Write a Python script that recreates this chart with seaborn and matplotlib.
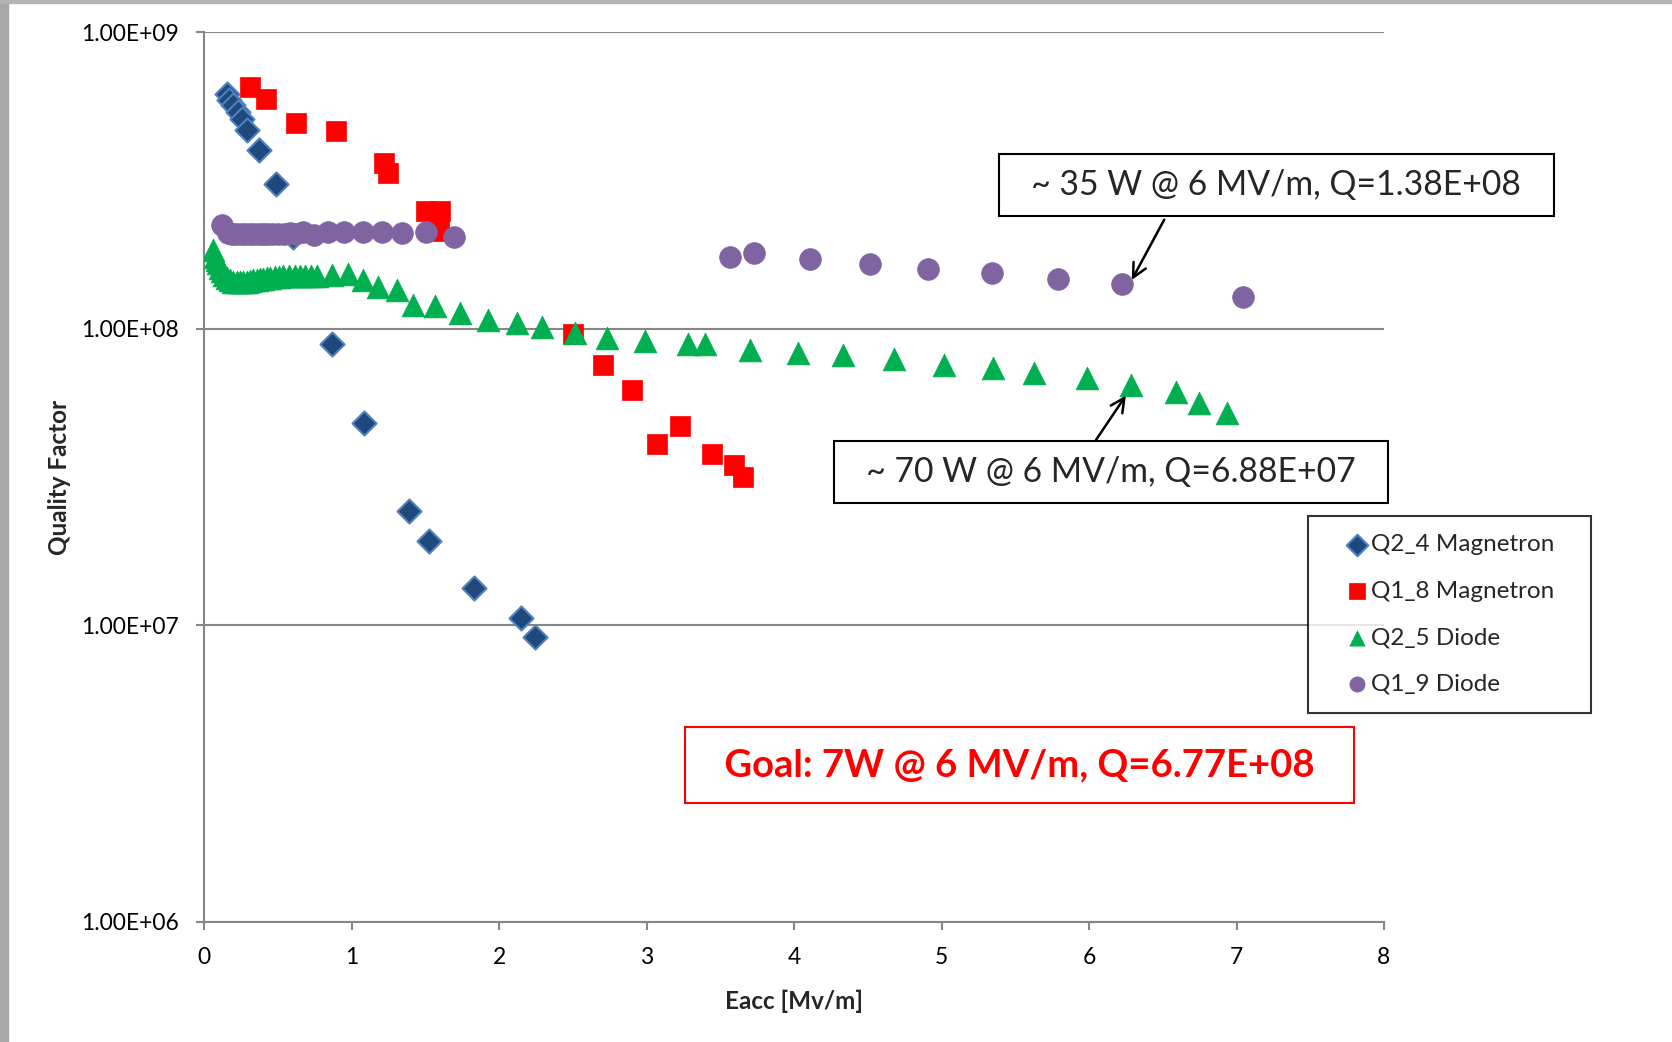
import numpy as np
import pandas as pd
import matplotlib
matplotlib.use("Agg")
import matplotlib.pyplot as plt
from matplotlib.patches import Rectangle
import seaborn as sns

# ---------------- data ----------------
q24_x = [0.154, 0.172, 0.199, 0.228, 0.26, 0.294, 0.373, 0.486, 0.605, 0.866,
         1.084, 1.387, 1.525, 1.828, 2.146, 2.247]
q24_y = [6.2e8, 5.9e8, 5.68e8, 5.38e8, 5.08e8, 4.68e8, 4.0e8, 3.08e8, 2.03e8, 8.87e7,
         4.8e7, 2.42e7, 1.92e7, 1.34e7, 1.06e7, 9.1e6]

q18_x = [0.314, 0.422, 0.626, 0.897, 1.222, 1.249, 1.507, 1.60, 1.591,
         2.50, 2.702, 2.905, 3.071, 3.23, 3.447, 3.591, 3.656]
q18_y = [6.54e8, 5.95e8, 4.95e8, 4.64e8, 3.63e8, 3.36e8, 2.5e8, 2.5e8, 2.14e8,
         9.62e7, 7.57e7, 6.2e7, 4.07e7, 4.68e7, 3.78e7, 3.48e7, 3.17e7]

q25_x = [0.063, 0.075, 0.085, 0.097, 0.108, 0.12, 0.135, 0.154, 0.175, 0.199, 0.222,
         0.244, 0.267, 0.289, 0.312, 0.334, 0.357, 0.38, 0.40, 0.425, 0.45, 0.481,
         0.51, 0.538, 0.575, 0.617, 0.65, 0.685, 0.725, 0.764, 0.866, 0.978,
         1.08, 1.182, 1.306, 1.419, 1.566, 1.736, 1.927, 2.124, 2.29, 2.514,
         2.731, 2.991, 3.28, 3.396, 3.699, 4.025, 4.335, 4.675, 5.014, 5.352,
         5.625, 5.987, 6.285, 6.588, 6.745, 6.936]
q25_y = [1.84e8, 1.75e8, 1.70e8, 1.66e8, 1.60e8, 1.56e8, 1.52e8, 1.48e8, 1.46e8, 1.44e8, 1.44e8,
         1.44e8, 1.44e8, 1.44e8, 1.45e8, 1.46e8, 1.46e8, 1.47e8, 1.47e8, 1.48e8, 1.48e8, 1.49e8,
         1.49e8, 1.50e8, 1.50e8, 1.51e8, 1.51e8, 1.51e8, 1.51e8, 1.51e8, 1.52e8, 1.53e8,
         1.46e8, 1.38e8, 1.35e8, 1.20e8, 1.19e8, 1.13e8, 1.07e8, 1.045e8, 1.01e8, 9.7e7,
         9.3e7, 9.08e7, 8.85e7, 8.85e7, 8.5e7, 8.29e7, 8.15e7, 7.88e7, 7.55e7, 7.35e7,
         7.08e7, 6.8e7, 6.46e7, 6.13e7, 5.6e7, 5.19e7]

q19_x = [0.124, 0.16, 0.19, 0.22, 0.25, 0.28, 0.31, 0.34, 0.37, 0.40, 0.43, 0.46,
         0.50, 0.54, 0.58, 0.62, 0.673, 0.748, 0.843, 0.951, 1.076, 1.209, 1.345, 1.505, 1.697,
         3.569, 3.728, 4.111, 4.516, 4.906, 5.34, 5.788, 6.221, 7.045]
q19_y = [2.24e8, 2.10e8, 2.08e8, 2.08e8, 2.08e8, 2.08e8, 2.08e8, 2.08e8, 2.08e8, 2.08e8, 2.08e8, 2.09e8,
         2.08e8, 2.09e8, 2.10e8, 2.09e8, 2.12e8, 2.07e8, 2.12e8, 2.12e8, 2.12e8, 2.12e8, 2.10e8, 2.11e8, 2.04e8,
         1.75e8, 1.80e8, 1.72e8, 1.65e8, 1.59e8, 1.54e8, 1.47e8, 1.41e8, 1.28e8]

series_names = ["Q2_4 Magnetron", "Q1_8 Magnetron", "Q2_5 Diode", "Q1_9 Diode"]
x_ticks = [0, 1, 2, 3, 4, 5, 6, 7, 8]
y_ticks = [1e6, 1e7, 1e8, 1e9]
y_tick_labels = ["1.00E+06", "1.00E+07", "1.00E+08", "1.00E+09"]
note_q19 = "~ 35 W @ 6 MV/m, Q=1.38E+08"
note_q25 = "~ 70 W @ 6 MV/m, Q=6.88E+07"
note_goal = "Goal: 7W @ 6 MV/m, Q=6.77E+08"

# ---------------- style ----------------
sns.set_style("white")
plt.rcParams["font.family"] = ["Lato", "DejaVu Sans"]

W, H = 1672, 1042
fig = plt.figure(figsize=(W / 100, H / 100), dpi=100)
fig.patch.set_facecolor("white")
ax = fig.add_axes([204 / W, 1 - 922 / H, (1384 - 204) / W, (922 - 32) / H])

GRID = "#868686"
styles = [
    dict(marker="D", color="#1F497D", edgecolor="#4F81BD", s=150, linewidth=1.5),
    dict(marker="s", color="#FF0000", edgecolor="#FF0000", s=200, linewidth=0.5),
    dict(marker="^", color="#00B050", edgecolor="#00B050", s=270, linewidth=0.5),
    dict(marker="o", color="#8064A2", edgecolor="#8064A2", s=245, linewidth=0.5),
]
data = [(q24_x, q24_y), (q18_x, q18_y), (q25_x, q25_y), (q19_x, q19_y)]
for (xs, ys), name, st in zip(data, series_names, styles):
    df = pd.DataFrame({"x": xs, "y": ys})
    sns.scatterplot(data=df, x="x", y="y", ax=ax, label=name, zorder=3, **st)

ax.set_yscale("log")
ax.set_xlim(0, 8)
ax.set_ylim(1e6, 1e9)
ax.set_xticks(x_ticks)
ax.set_xticklabels([str(t) for t in x_ticks])
ax.set_yticks(y_ticks)
ax.set_yticklabels(y_tick_labels)
ax.yaxis.set_minor_locator(matplotlib.ticker.NullLocator())
ax.yaxis.grid(True, color=GRID, linewidth=1.5, zorder=0)
ax.xaxis.grid(False)
ax.set_axisbelow(True)
for sp in ["top", "right"]:
    ax.spines[sp].set_visible(False)
for sp in ["left", "bottom"]:
    ax.spines[sp].set_color(GRID)
    ax.spines[sp].set_linewidth(1.5)
ax.tick_params(axis="both", which="major", direction="out", length=6, width=1.5,
               color=GRID, labelsize=16.5, labelcolor="black", pad=12)
ax.tick_params(axis="both", left=True, bottom=True)

ax.set_xlabel("Eacc [Mv/m]", fontsize=17.5, fontweight="bold")
ax.set_ylabel("Quality Factor", fontsize=17.5, fontweight="bold")
ax.xaxis.set_label_coords(0.5, -0.076)
ax.yaxis.set_label_coords(-0.113, 0.5)

# legend
leg = ax.legend(loc="upper left", bbox_to_anchor=(1308 / W, 1 - 516 / H),
                bbox_transform=fig.transFigure, fontsize=17.5, frameon=True,
                fancybox=False, shadow=False, borderpad=0.75, labelspacing=1.05,
                handletextpad=-0.66, handlelength=2.5, borderaxespad=0)
leg.get_frame().set_edgecolor("black")
leg.get_frame().set_linewidth(1.5)
for h in leg.legend_handles:
    h.set_sizes([120])
for t in leg.get_texts():
    t.set_text(t.get_text() + "   ")

# annotations
box_kw = dict(boxstyle="square,pad=0.45", fc="white", ec="black", lw=1.5)
ax.text(7.27, 3.05e8, "  " + note_q19 + "  ", fontsize=24.3, ha="center", va="center",
        bbox=box_kw, zorder=5)
ax.annotate("", xy=(6.29, 1.46e8), xytext=(6.51, 2.33e8),
            arrowprops=dict(arrowstyle="->", color="black", lw=1.8,
                            shrinkA=0, shrinkB=0, mutation_scale=25), zorder=6)
ax.text(6.149, 3.28e7, "  " + note_q25 + "  ", fontsize=24.3, ha="center", va="center",
        bbox=dict(boxstyle="square,pad=0.45", fc="white", ec="black", lw=1.5), zorder=5)
ax.annotate("", xy=(6.25, 5.95e7), xytext=(6.048, 4.22e7),
            arrowprops=dict(arrowstyle="->", color="black", lw=1.8,
                            shrinkA=0, shrinkB=0, mutation_scale=25), zorder=6)
ax.text(5.531, 3.37e6, "  " + note_goal + "  ", fontsize=27.5, fontweight="bold",
        color="#FF0000", ha="center", va="center",
        bbox=dict(boxstyle="square,pad=0.55", fc="white", ec="#FF0000", lw=1.5),
        zorder=5)

# window frame strips
fig.patches.append(Rectangle((0, 0), 8 / W, 1, transform=fig.transFigure,
                             color="#A8A8A8", zorder=10))
fig.patches.append(Rectangle((0, 1 - 3 / H), 1, 3 / H, transform=fig.transFigure,
                             color="#B4B4B4", zorder=10))

fig.savefig("out.png", dpi=100)
